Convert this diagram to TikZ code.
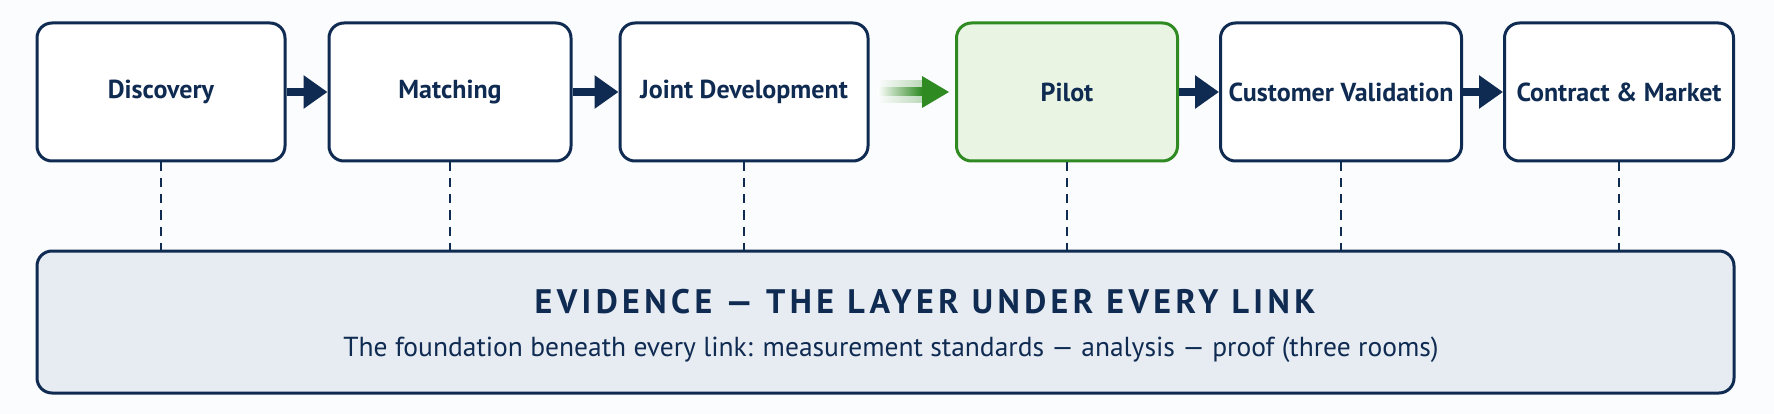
\documentclass[tikz,border=0pt]{standalone}
\usepackage{fontspec}
\setmainfont{PT Sans}
\usetikzlibrary{arrows.meta,fadings}
\definecolor{navy}{HTML}{0F2B52}
\definecolor{gborder}{HTML}{2F8A22}
\definecolor{gfill}{HTML}{E9F4E3}
\definecolor{evfill}{HTML}{E7ECF2}
\definecolor{bg}{HTML}{FBFCFD}
\tikzset{
  stage/.style={draw=navy, line width=3pt, rounded corners=15pt, fill=white,
    minimum height=138pt, inner sep=0pt, font=\fontsize{26}{30}\selectfont\bfseries, text=navy},
  pilotbox/.style={stage, draw=gborder, fill=gfill},
  flow/.style={draw=navy, line width=8pt, -{Triangle[length=24pt,width=32pt]}},
  link/.style={draw=navy, line width=1.6pt, dash pattern=on 9pt off 7pt},
  layer/.style={draw=navy, line width=3pt, rounded corners=15pt, fill=evfill,
    minimum width=1697pt, minimum height=142pt, inner sep=0pt}
}
\begin{document}
\begin{tikzpicture}[x=1pt,y=-1pt]
\fill[bg] (0,0) rectangle (1774,414);
\useasboundingbox (0,0) rectangle (1774,414);
\node[stage, minimum width=248pt] (s1) at (161,92) {Discovery};
\node[stage, minimum width=242pt] (s2) at (450,92) {Matching};
\node[stage, minimum width=248pt] (s3) at (744,92) {Joint Development};
\node[pilotbox, minimum width=221pt] (s4) at (1067,92) {Pilot};
\node[stage, minimum width=241pt] (s5) at (1341,92) {Customer Validation};
\node[stage, minimum width=229pt] (s6) at (1619,92) {Contract \& Market};
\node[layer] (ev) at (885.5,322) {};
\node[text=navy, font=\fontsize{34}{38}\selectfont\bfseries\addfontfeatures{LetterSpace=13}] (evt) at (925,302) {EVIDENCE — THE LAYER UNDER EVERY LINK};
\node[text=navy, font=\fontsize{27.5}{30}\selectfont] (evs) at (891,350) {The foundation beneath every link: measurement standards — analysis — proof (three rooms)};
\draw[flow] (s1.east) -- (s2.west);
\draw[flow] (s2.east) -- (s3.west);
\draw[flow] (s4.east) -- (s5.west);
\draw[flow] (s5.east) -- (s6.west);
% green highlighted arrow with fading trail
\coordinate (gstart) at ([xshift=8pt]s3.east);
\coordinate (ghead) at ([xshift=-33pt]s4.west);
\shade[left color=gborder!0, right color=gborder, opacity=0.3] ([yshift=-11pt]gstart) rectangle ([yshift=11pt]ghead);
\shade[left color=white, right color=gborder] ([yshift=-4pt]gstart) rectangle ([yshift=4pt]ghead);
\draw[draw=none, fill=gborder] ([yshift=-16pt]ghead) -- ([xshift=-6pt]s4.west) -- ([yshift=16pt]ghead) -- cycle;
\foreach \i in {1,...,6}{
  \draw[link] (s\i.south) -- (s\i.south |- ev.north);
}
\end{tikzpicture}
\end{document}
